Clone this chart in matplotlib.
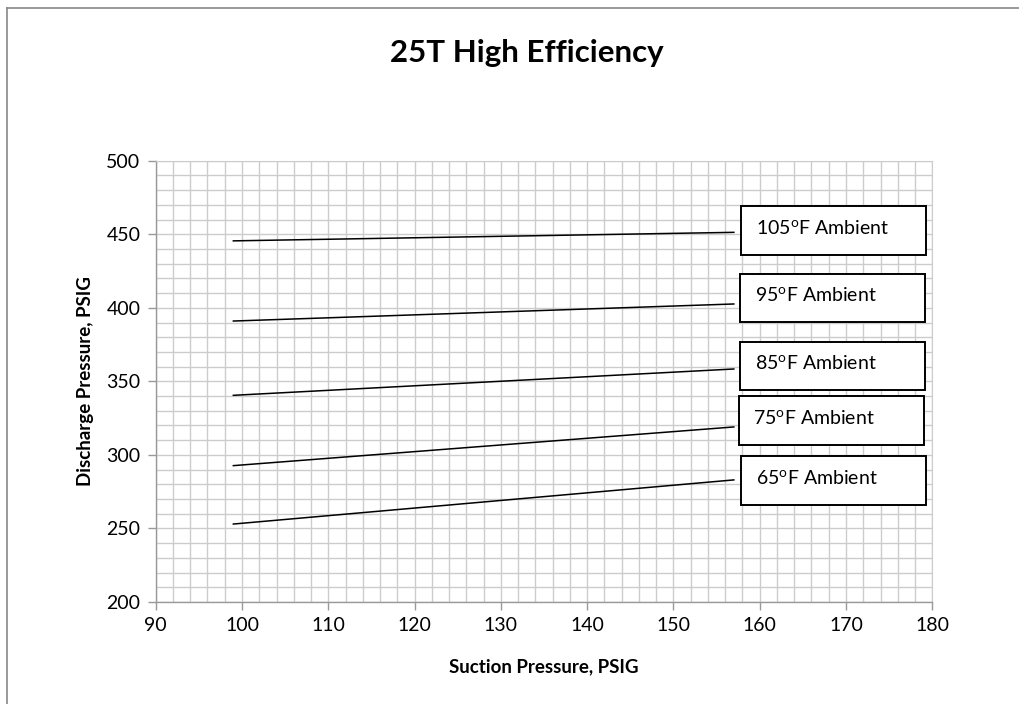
import matplotlib
matplotlib.use("Agg")
import matplotlib.pyplot as plt
from matplotlib.patches import Rectangle
from matplotlib.lines import Line2D
from matplotlib.ticker import MultipleLocator

# ---- data ----
suction = [99, 157]
series_labels = ["105", "95", "85", "75", "65"]
discharge_105 = [445.5, 451.3]
discharge_95 = [391.0, 402.6]
discharge_85 = [340.5, 358.4]
discharge_75 = [292.7, 319.0]
discharge_65 = [253.0, 283.0]
x_ticks = [90, 100, 110, 120, 130, 140, 150, 160, 170, 180]
y_ticks = [200, 250, 300, 350, 400, 450, 500]

series = [discharge_105, discharge_95, discharge_85, discharge_75, discharge_65]

plt.rcParams['font.family'] = ['Lato', 'DejaVu Sans']
plt.rcParams['mathtext.fontset'] = 'custom'
plt.rcParams['mathtext.rm'] = 'Lato'

W, H = 1019, 704
fig = plt.figure(figsize=(W / 100, H / 100), dpi=100)
fig.patch.set_facecolor('white')

left, right, top, bottom = 155.7, 932.3, 160.7, 602.0
ax = fig.add_axes([left / W, 1 - bottom / H, (right - left) / W, (bottom - top) / H])

ax.set_xlim(90, 180)
ax.set_ylim(200, 500)
ax.set_xticks(x_ticks)
ax.set_yticks(y_ticks)
ax.xaxis.set_minor_locator(MultipleLocator(2))
ax.yaxis.set_minor_locator(MultipleLocator(10))
grid_c = '#cccccc'
ax.grid(True, which='both', color=grid_c, linewidth=1.0)
ax.set_axisbelow(True)
ax.tick_params(which='major', length=6, width=1, color='#999999', labelsize=14, pad=5)
ax.tick_params(which='minor', length=0)
for s in ['top', 'right']:
    ax.spines[s].set_color(grid_c)
for s in ['left', 'bottom']:
    ax.spines[s].set_color('#999999')
    ax.spines[s].set_linewidth(1.0)

for ys in series:
    ax.plot(suction, ys, color='black', linewidth=1.1, zorder=3)

# label boxes: (x0, x1, y0, y1) in data units
boxes = [
    (157.83, 179.23, 435.9, 469.2),
    (157.72, 179.12, 390.3, 423.2),
    (157.72, 179.15, 344.1, 377.0),
    (157.56, 179.00, 306.9, 340.0),
    (157.83, 179.27, 265.9, 299.3),
]
for lab, (x0, x1, y0, y1) in zip(series_labels, boxes):
    ax.add_patch(Rectangle((x0, y0), x1 - x0, y1 - y0, facecolor='white',
                           edgecolor='black', linewidth=1.4, zorder=4))
    ax.text(x0 + 1.7, (y0 + y1) / 2 + 1.5, lab + r"$^{\mathregular{o}}$F Ambient",
            fontsize=14, va='center', ha='left', zorder=5)

ax.set_xlabel("Suction Pressure, PSIG", fontsize=13.5, fontweight='bold', labelpad=17)
ax.set_ylabel("Discharge Pressure, PSIG", fontsize=13.5, fontweight='bold', labelpad=9)

fig.text(0.5 + 17 / W, 1 - 53 / H, "25T High Efficiency", fontsize=22.5, fontweight='bold',
         ha='center', va='center')

# outer border (top and left visible)
fig.add_artist(Line2D([7 / W, 1], [1 - 8 / H, 1 - 8 / H], color='#888888', linewidth=1.2,
                      transform=fig.transFigure))
fig.add_artist(Line2D([7 / W, 7 / W], [0, 1 - 8 / H], color='#888888', linewidth=1.2,
                      transform=fig.transFigure))

fig.savefig("out.png", dpi=100)
